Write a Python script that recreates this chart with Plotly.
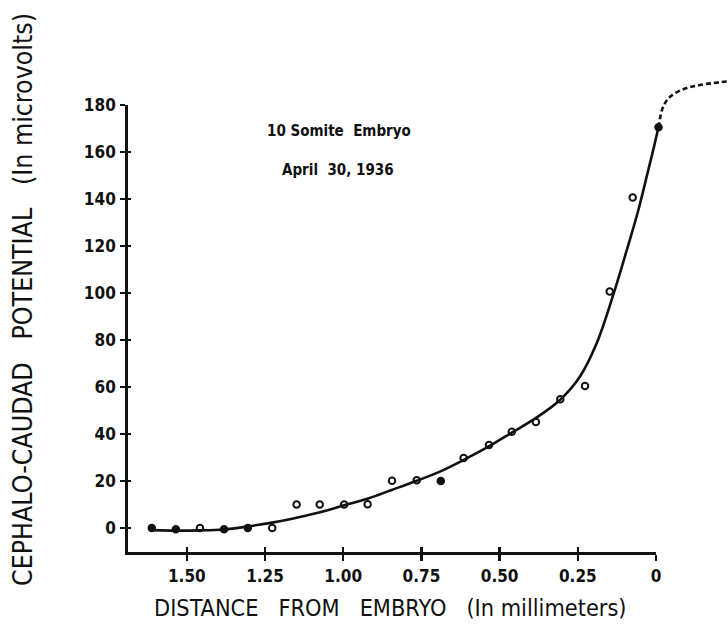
import plotly.graph_objects as go

# ---------------- data ----------------
dist_mm = [1.612, 1.535, 1.458, 1.381, 1.305, 1.227, 1.149, 1.075, 0.997, 0.922,
           0.844, 0.765, 0.688, 0.615, 0.534, 0.461, 0.384, 0.306, 0.227, 0.148,
           0.0745, -0.008]
potential_uv = [0, -0.5, 0, -0.5, 0, 0, 10, 10, 10, 10.1,
                20.1, 20.3, 20, 29.8, 35.3, 41, 45.1, 54.8, 60.4, 100.6,
                140.6, 170.5]
filled_point = [True, True, False, True, True, False, False, False, False, False,
                False, False, True, False, False, False, False, False, False, False,
                False, True]

curve_x = [1.607, 1.532, 1.458, 1.383, 1.309, 1.223, 1.149, 1.074, 0.994, 0.920,
           0.845, 0.765, 0.691, 0.616, 0.536, 0.461, 0.381, 0.307, 0.243, 0.190,
           0.136, 0.094, 0.057, 0.028, 0.0086, -0.006]
curve_y = [-0.9, -1.1, -1.0, -0.6, 0.6, 2.4, 4.4, 6.7, 9.8, 12.6,
           16.2, 20.1, 24.0, 28.9, 34.6, 40.6, 47.1, 54.5, 64.5, 78.5,
           99.5, 118.0, 135.0, 150.5, 161.0, 169.5]

ext_x = [-0.008, -0.023, -0.045, -0.087, -0.141, -0.226]
ext_y = [170.5, 179.3, 183.5, 186.7, 188.5, 190.0]

x_tickvals = [1.5, 1.25, 1.0, 0.75, 0.5, 0.25, 0]
x_ticktext = ["1.50", "1.25", "1.00", "0.75", "0.50", "0.25", "0"]
y_tickvals = [0, 20, 40, 60, 80, 100, 120, 140, 160, 180]
y_ticktext = [str(v) for v in y_tickvals]

x_title = "DISTANCE\u00a0\u00a0 FROM\u00a0\u00a0 EMBRYO\u00a0\u00a0 (In millimeters)"
y_title = "CEPHALO-CAUDAD\u00a0\u00a0 POTENTIAL\u00a0\u00a0 (In microvolts)"
note_lines = ["10 Somite\u00a0 Embryo", "April\u00a0 30, 1936"]

# ---------------- geometry ----------------
W, H = 728, 637
PX_L, PX_R = 127.7, 656.0
PX_T, PX_B = 105.0, 552.0
X_MAX, X_MIN = 1.689, 0.0
Y_MIN, Y_MAX = -10.2, 180.0

kx = (X_MIN - X_MAX) / (PX_R - PX_L)
x2_range = [X_MAX - PX_L * kx, X_MAX + (W - PX_L) * kx]
ky = (Y_MAX - Y_MIN) / (PX_B - PX_T)
y2_range = [Y_MIN - (H - PX_B) * ky, Y_MAX + PX_T * ky]

xdom = [PX_L / W, PX_R / W]
ydom = [(H - PX_B) / H, (H - PX_T) / H]

FONT = "DejaVu Sans Condensed, DejaVu Sans, sans-serif"
INK = "#111111"

fig = go.Figure()

fig.add_trace(go.Scatter(x=[None], y=[None], xaxis="x", yaxis="y",
                         showlegend=False, hoverinfo="skip"))
fig.add_trace(go.Scatter(x=[None], y=[None], xaxis="x3", yaxis="y3",
                         showlegend=False, hoverinfo="skip"))

# fitted curve
fig.add_trace(go.Scatter(x=curve_x, y=curve_y, mode="lines", xaxis="x2", yaxis="y2",
                         line=dict(color=INK, width=2.6, shape="spline", smoothing=1.0),
                         showlegend=False, hoverinfo="skip"))
# dashed extrapolation
fig.add_trace(go.Scatter(x=ext_x, y=ext_y, mode="lines", xaxis="x2", yaxis="y2",
                         line=dict(color=INK, width=2.6, shape="spline", dash="5px,3px"),
                         showlegend=False, hoverinfo="skip"))
# points
symbols = ["circle" if f else "circle-open" for f in filled_point]
fig.add_trace(go.Scatter(x=dist_mm, y=potential_uv, mode="markers", xaxis="x2", yaxis="y2",
                         marker=dict(symbol=symbols, size=6.5, color=INK,
                                     line=dict(color=INK, width=2)),
                         showlegend=False, cliponaxis=False, hoverinfo="skip"))

tickfont = dict(family=FONT, size=17, color=INK, weight="bold")

fig.update_layout(
    width=W, height=H,
    margin=dict(l=0, r=0, t=0, b=0, autoexpand=False),
    paper_bgcolor="white", plot_bgcolor="rgba(0,0,0,0)",
    showlegend=False,
    hovermode=False,
    xaxis=dict(domain=xdom, range=[X_MAX, X_MIN], anchor="y", automargin=False,
               showline=True, linecolor=INK, linewidth=2.5, mirror=False,
               showgrid=False, zeroline=False,
               tickmode="array", tickvals=x_tickvals, ticktext=x_ticktext,
               ticks="outside", ticklen=6, tickwidth=2.5, tickcolor=INK,
               tickfont=tickfont, ticklabelstandoff=1),
    yaxis=dict(domain=ydom, range=[Y_MIN, Y_MAX], anchor="x", automargin=False,
               showline=True, linecolor=INK, linewidth=2.5, mirror=False,
               showgrid=False, zeroline=False,
               tickmode="array", tickvals=y_tickvals, ticktext=y_ticktext,
               ticks="outside", ticklen=5, tickwidth=2.2, tickcolor=INK,
               tickfont=tickfont, ticklabelstandoff=1),
    xaxis3=dict(overlaying="x", range=[X_MAX, X_MIN], anchor="y3", automargin=False,
                showline=False, showgrid=False, zeroline=False,
                tickmode="array", tickvals=x_tickvals,
                ticks="inside", ticklen=5, tickwidth=2.5, tickcolor=INK,
                showticklabels=False),
    yaxis3=dict(overlaying="y", range=[Y_MIN, Y_MAX], anchor="x3", automargin=False,
                showline=False, showgrid=False, zeroline=False,
                tickmode="array", tickvals=y_tickvals,
                ticks="inside", ticklen=3, tickwidth=2.2, tickcolor=INK,
                showticklabels=False),
    xaxis2=dict(domain=[0, 1], range=x2_range, anchor="y2", visible=False,
                fixedrange=True, automargin=False),
    yaxis2=dict(domain=[0, 1], range=y2_range, anchor="x2", visible=False,
                fixedrange=True, automargin=False),
)

fig.add_annotation(text=x_title, xref="paper", yref="paper",
                   x=390 / W, y=(H - 607) / H, xanchor="center", yanchor="middle",
                   showarrow=False, font=dict(family=FONT, size=23.3, color=INK))
fig.add_annotation(text=y_title, xref="paper", yref="paper", textangle=-90,
                   x=22 / W, y=(H - 300) / H, xanchor="center", yanchor="middle",
                   showarrow=False, font=dict(family=FONT, size=26.5, color=INK))
fig.add_annotation(text=note_lines[0], xref="paper", yref="paper",
                   x=339 / W, y=(H - 131) / H, xanchor="center", yanchor="middle",
                   showarrow=False, font=dict(family=FONT, size=15, color=INK, weight="bold"))
fig.add_annotation(text=note_lines[1], xref="paper", yref="paper",
                   x=338 / W, y=(H - 170) / H, xanchor="center", yanchor="middle",
                   showarrow=False, font=dict(family=FONT, size=15, color=INK, weight="bold"))

fig.write_html("out.html",
               config={"displayModeBar": False, "staticPlot": True},
               post_script="document.body.style.margin='0';document.body.style.overflow='hidden';")
